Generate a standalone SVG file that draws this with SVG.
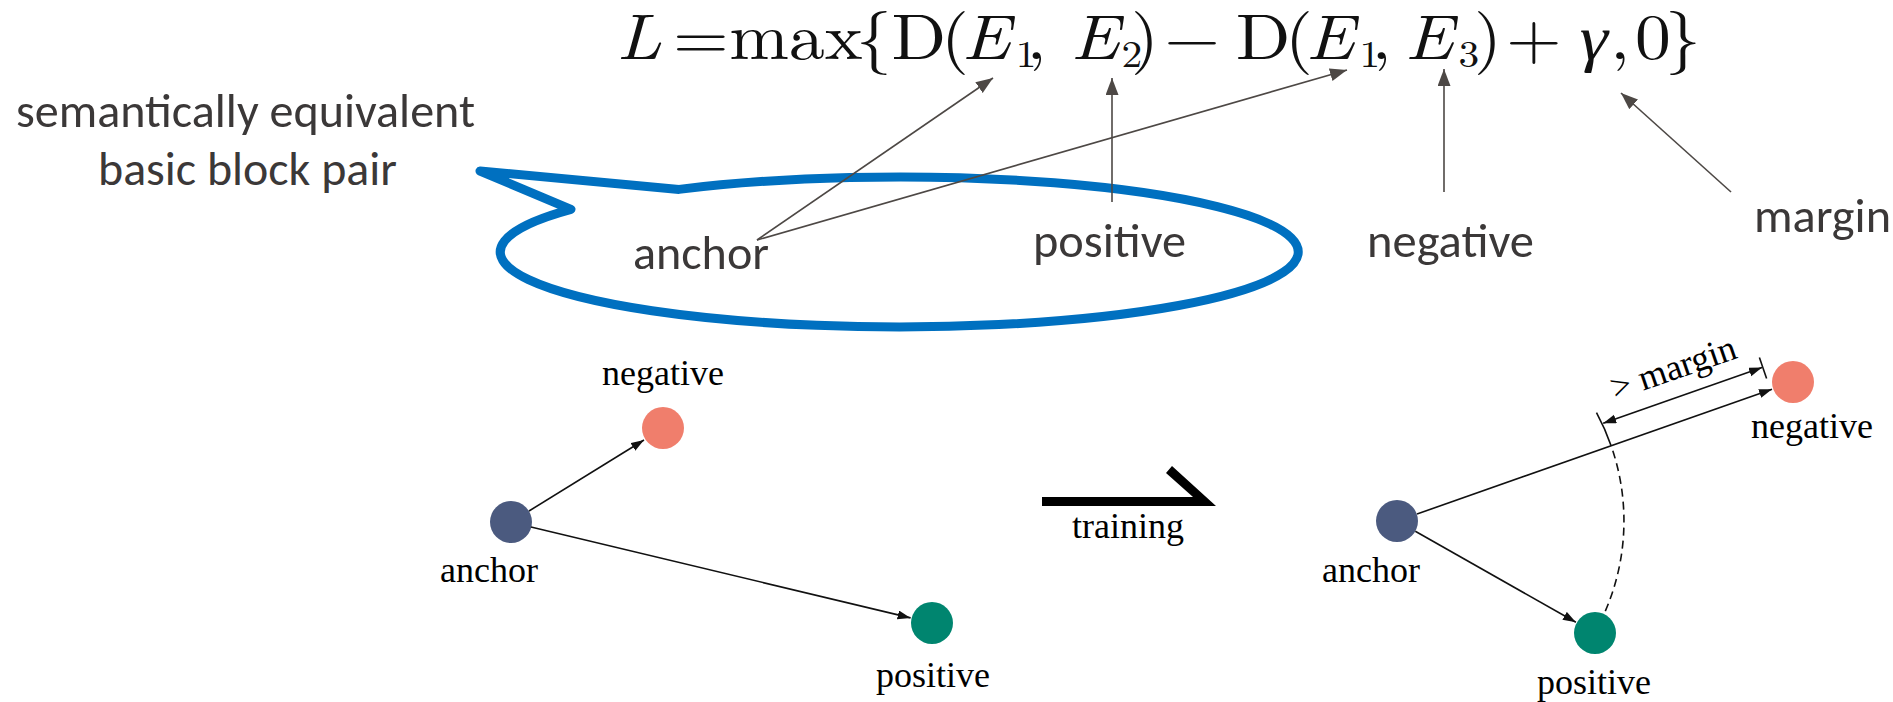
<svg xmlns="http://www.w3.org/2000/svg" width="1893" height="702" viewBox="0 0 1893 702">
<style>
.cal{font-family:Carlito,"Open Sans","Liberation Sans",sans-serif;font-size:48px;fill:#3B3838}
.math{font-family:"Latin Modern Roman","CMU Serif","Liberation Serif",serif;font-size:64px;fill:#111}
.it{font-style:italic}
.sub{font-size:37px}
.lab{font-family:"Liberation Serif","Times New Roman",serif;font-size:36px;fill:#000}
.top{stroke:#4d4845;stroke-width:1.6;fill:none}
.blk{stroke:#111;stroke-width:1.6;fill:none}
</style>
<defs>
<marker id="ah" markerUnits="userSpaceOnUse" markerWidth="18" markerHeight="14" refX="17" refY="6.5" orient="auto"><path d="M0,0 L17,6.5 L0,13 z" fill="#4d4845"/></marker>
<marker id="bh" markerUnits="userSpaceOnUse" markerWidth="14" markerHeight="10" refX="13" refY="4.5" orient="auto"><path d="M0,0 L13,4.5 L0,9 z" fill="#111"/></marker>
<marker id="bhs" markerUnits="userSpaceOnUse" markerWidth="14" markerHeight="10" refX="13" refY="4.5" orient="auto-start-reverse"><path d="M0,0 L13,4.5 L0,9 z" fill="#111"/></marker>
</defs>

<g id="formula" transform="scale(1.12 1)">
<text class="math" text-anchor="middle"><tspan class="it" x="570.5" y="59">L</tspan><tspan x="625.9" y="59">=</tspan><tspan x="710.7" y="59">max</tspan><tspan x="780.4" y="59">{</tspan><tspan x="820.5" y="59">D</tspan><tspan x="852.7" y="59">(</tspan><tspan class="it" x="880.4" y="59">E</tspan><tspan class="sub" x="916.1" y="67">1</tspan><tspan x="925.5" y="59">,</tspan><tspan class="it" x="977.7" y="59">E</tspan><tspan class="sub" x="1010.7" y="67">2</tspan><tspan x="1022.3" y="59">)</tspan><tspan x="1064.3" y="59">−</tspan><tspan x="1127.7" y="59">D</tspan><tspan x="1159.8" y="59">(</tspan><tspan class="it" x="1187.5" y="59">E</tspan><tspan class="sub" x="1223.2" y="67">1</tspan><tspan x="1233.5" y="59">,</tspan><tspan class="it" x="1275.9" y="59">E</tspan><tspan class="sub" x="1311.6" y="67">3</tspan><tspan x="1328.6" y="59">)</tspan><tspan x="1369.6" y="59">+</tspan><tspan class="it" x="1423.2" y="59">γ</tspan><tspan x="1446.4" y="59">,</tspan><tspan x="1475.9" y="59">0</tspan><tspan x="1502.7" y="59">}</tspan></text>
</g>

<g id="callout">
<path d="M571,209.3 L480,171 L679,189.4 A399 75 0 1 1 571,209.3 Z" fill="none" stroke="#0070C0" stroke-width="9" stroke-linejoin="round"/>
<text class="cal" x="16" y="127" textLength="459" lengthAdjust="spacingAndGlyphs">semantically equivalent</text>
<text class="cal" x="98" y="185" textLength="299" lengthAdjust="spacingAndGlyphs">basic block pair</text>
</g>

<g id="label-anchor"><text class="cal" x="633" y="269" textLength="136" lengthAdjust="spacingAndGlyphs">anchor</text></g>
<g id="label-positive"><text class="cal" x="1033" y="257" textLength="153" lengthAdjust="spacingAndGlyphs">positive</text></g>
<g id="label-negative"><text class="cal" x="1367" y="257" textLength="167" lengthAdjust="spacingAndGlyphs">negative</text></g>
<g id="label-margin"><text class="cal" x="1754" y="232" textLength="137" lengthAdjust="spacingAndGlyphs">margin</text></g>

<g id="left-anchor"><circle cx="511" cy="522" r="21" fill="#4b5a7f"/><text class="lab" x="489" y="582" text-anchor="middle">anchor</text></g>
<g id="left-negative"><circle cx="663" cy="428" r="21" fill="#f07e6c"/><text class="lab" x="663" y="385" text-anchor="middle">negative</text></g>
<g id="left-positive"><circle cx="932" cy="623" r="21" fill="#00856f"/><text class="lab" x="933" y="687" text-anchor="middle">positive</text></g>

<g id="training">
<polygon points="1042,497 1193,497 1166,473 1172,466 1216,506 1042,506" fill="#000"/>
<text class="lab" x="1128" y="538" text-anchor="middle">training</text>
</g>

<g id="right-anchor"><circle cx="1397" cy="521" r="21" fill="#4b5a7f"/><text class="lab" x="1371" y="582" text-anchor="middle">anchor</text></g>
<g id="right-negative"><circle cx="1793" cy="382" r="21" fill="#f07e6c"/><text class="lab" x="1812" y="438" text-anchor="middle">negative</text></g>
<g id="right-positive"><circle cx="1595" cy="633" r="21" fill="#00856f"/><text class="lab" x="1594" y="694" text-anchor="middle">positive</text></g>
<g id="margin-label"><text class="lab" x="1677" y="379" text-anchor="middle" transform="rotate(-19 1677 379)">&gt; margin</text></g>

<g id="connectors">
<line class="top" x1="757" y1="240" x2="993" y2="78" marker-end="url(#ah)"/>
<line class="top" x1="757" y1="240" x2="1347" y2="70" marker-end="url(#ah)"/>
<line class="top" x1="1112" y1="202" x2="1112" y2="78" marker-end="url(#ah)"/>
<line class="top" x1="1444" y1="192" x2="1444" y2="69" marker-end="url(#ah)"/>
<line class="top" x1="1731" y1="192" x2="1621" y2="93" marker-end="url(#ah)"/>

<line class="blk" x1="529" y1="511" x2="644" y2="440" marker-end="url(#bh)"/>
<line class="blk" x1="531" y1="527" x2="910.6" y2="617.9" marker-end="url(#bh)"/>

<line class="blk" x1="1417" y1="514" x2="1772" y2="389.3" marker-end="url(#bh)"/>
<line class="blk" x1="1415.3" y1="531.3" x2="1575.9" y2="622.2" marker-end="url(#bh)"/>
<path class="blk" d="M1605.3,611.1 A227 227 0 0 0 1611.2,446" stroke-dasharray="8 5"/>
<path class="blk" d="M1611.2,446 A227 227 0 0 0 1596.5,412.7"/>
<line class="blk" x1="1603.2" y1="423.2" x2="1762" y2="367.6" marker-start="url(#bhs)" marker-end="url(#bh)"/>
<line class="blk" x1="1759.4" y1="357.6" x2="1766.6" y2="378.4"/>
</g>
</svg>
